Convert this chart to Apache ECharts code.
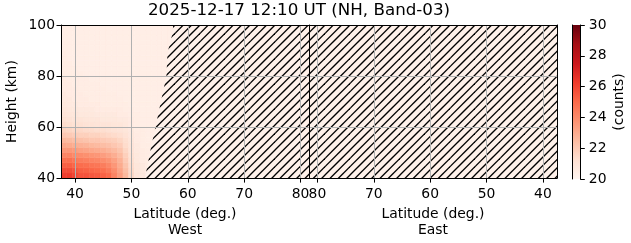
<!DOCTYPE html>
<html><head><meta charset="utf-8">
<script src="https://cdn.jsdelivr.net/npm/echarts@6/dist/echarts.min.js"></script>
<style>html,body{margin:0;padding:0;background:#fff}#c{width:631px;height:243px}</style>
</head><body><div id="c"></div>
<script>
// ---- data ----
const titleText = '2025-12-17 12:10 UT (NH, Band-03)';
const lats = [38,39,40,41,42,43,44,45,46,47,48,49,50,51,52,53,54,55,56,57];
const heights = [41,43,45,47,49,51,53,55,57,59,61,63,65,67,69,71,73,75,77,79,81,83,85,87,89,91,93,95,97,99];
const values = [
 [26.2,26.3,26.0,25.6,25.6,25.5,25.4,25.2,25.0,24.2,23.4,22.6,21.6,21.0,20.7,20.6,20.5,20.5,20.4,20.4],
 [25.8,25.8,25.6,25.3,25.2,25.1,25.0,24.8,24.5,23.9,23.2,22.4,21.5,20.9,20.7,20.6,20.5,20.5,20.4,20.4],
 [25.3,25.3,25.1,24.9,24.8,24.7,24.6,24.4,24.1,23.6,23.0,22.2,21.4,20.9,20.7,20.5,20.5,20.4,20.4,20.4],
 [24.8,24.8,24.6,24.4,24.3,24.2,24.1,23.9,23.7,23.3,22.8,22.0,21.3,20.8,20.6,20.5,20.5,20.4,20.4,20.4],
 [24.2,24.2,24.0,23.9,23.8,23.7,23.6,23.4,23.2,22.9,22.5,21.8,21.2,20.8,20.6,20.5,20.4,20.4,20.4,20.4],
 [23.6,23.6,23.5,23.3,23.2,23.1,23.0,22.9,22.7,22.5,22.2,21.6,21.1,20.7,20.6,20.5,20.4,20.4,20.4,20.4],
 [23.1,23.0,22.9,22.8,22.7,22.6,22.5,22.4,22.3,22.1,21.9,21.4,21.0,20.7,20.5,20.5,20.4,20.4,20.4,20.4],
 [22.6,22.5,22.4,22.3,22.2,22.1,22.1,22.0,21.9,21.8,21.6,21.3,20.9,20.6,20.5,20.4,20.4,20.4,20.4,20.4],
 [22.1,22.0,21.9,21.8,21.8,21.7,21.7,21.6,21.5,21.4,21.3,21.1,20.8,20.6,20.5,20.4,20.4,20.4,20.4,20.4],
 [21.7,21.6,21.5,21.5,21.4,21.4,21.3,21.3,21.2,21.1,21.0,20.9,20.7,20.5,20.5,20.4,20.4,20.4,20.4,20.4],
 [21.4,21.3,21.2,21.2,21.1,21.1,21.0,21.0,21.0,20.9,20.9,20.8,20.6,20.5,20.4,20.4,20.4,20.4,20.4,20.4],
 [21.2,21.1,21.0,21.0,20.9,20.9,20.9,20.8,20.8,20.8,20.7,20.7,20.6,20.5,20.4,20.4,20.4,20.4,20.4,20.4],
 [21.0,20.9,20.9,20.8,20.8,20.8,20.7,20.7,20.7,20.7,20.6,20.6,20.5,20.5,20.4,20.4,20.4,20.4,20.4,20.4],
 [20.9,20.8,20.8,20.7,20.7,20.7,20.6,20.6,20.6,20.6,20.6,20.5,20.5,20.4,20.4,20.4,20.4,20.4,20.4,20.4],
 [20.8,20.7,20.7,20.6,20.6,20.6,20.6,20.5,20.5,20.5,20.5,20.5,20.4,20.4,20.4,20.4,20.4,20.4,20.4,20.4],
 [20.7,20.7,20.6,20.6,20.6,20.5,20.5,20.5,20.5,20.5,20.5,20.4,20.4,20.4,20.4,20.4,20.4,20.4,20.4,20.4],
 [20.7,20.6,20.6,20.6,20.5,20.5,20.5,20.5,20.5,20.5,20.4,20.4,20.4,20.4,20.4,20.4,20.4,20.4,20.4,20.4],
 [20.6,20.6,20.6,20.5,20.5,20.5,20.5,20.5,20.4,20.4,20.4,20.4,20.4,20.4,20.4,20.4,20.4,20.4,20.4,20.4],
 [20.6,20.6,20.5,20.5,20.5,20.5,20.5,20.4,20.4,20.4,20.4,20.4,20.4,20.4,20.4,20.4,20.4,20.4,20.4,20.4],
 [20.6,20.5,20.5,20.5,20.5,20.4,20.4,20.4,20.4,20.4,20.4,20.4,20.4,20.4,20.4,20.4,20.4,20.4,20.4,20.4],
 [20.5,20.5,20.5,20.5,20.4,20.4,20.4,20.4,20.4,20.4,20.4,20.4,20.4,20.4,20.4,20.4,20.4,20.4,20.4,20.4],
 [20.5,20.5,20.5,20.4,20.4,20.4,20.4,20.4,20.4,20.4,20.4,20.4,20.4,20.4,20.4,20.4,20.4,20.4,20.4,20.4],
 [20.5,20.5,20.4,20.4,20.4,20.4,20.4,20.4,20.4,20.4,20.4,20.4,20.4,20.4,20.4,20.4,20.4,20.4,20.4,20.4],
 [20.5,20.4,20.4,20.4,20.4,20.4,20.4,20.4,20.4,20.4,20.4,20.4,20.4,20.4,20.4,20.4,20.4,20.4,20.4,20.4],
 [20.5,20.4,20.4,20.4,20.4,20.4,20.4,20.4,20.4,20.4,20.4,20.4,20.4,20.4,20.4,20.4,20.4,20.4,20.4,20.4],
 [20.4,20.4,20.4,20.4,20.4,20.4,20.4,20.4,20.4,20.4,20.4,20.4,20.4,20.4,20.4,20.4,20.4,20.4,20.4,20.4],
 [20.4,20.4,20.4,20.4,20.4,20.4,20.4,20.4,20.4,20.4,20.4,20.4,20.4,20.4,20.4,20.4,20.4,20.4,20.4,20.4],
 [20.4,20.4,20.4,20.4,20.4,20.4,20.4,20.4,20.4,20.4,20.4,20.4,20.4,20.4,20.4,20.4,20.4,20.4,20.4,20.4],
 [20.4,20.4,20.4,20.4,20.4,20.4,20.4,20.4,20.4,20.4,20.4,20.4,20.4,20.4,20.4,20.4,20.4,20.4,20.4,20.4],
 [20.4,20.4,20.4,20.4,20.4,20.4,20.4,20.4,20.4,20.4,20.4,20.4,20.4,20.4,20.4,20.4,20.4,20.4,20.4,20.4]
];
// no-data boundary in the West panel (lat, height), top to bottom
const westNoDataBoundary = [[57.4,100],[57.3,96.9],[56.4,89.1],[56.2,79.9],[55.3,70.8],[54.3,60.4],[53.4,51.3],[52.4,40]];
const latTicks = [40,50,60,70,80];
const latRange = [37.5, 81.5];
const heightRange = [40, 100];
const heightTickStep = 20;
const countRange = [20, 30];
const countTickStep = 2;
const reds = ['#fff5f0','#fee0d2','#fcbba1','#fc9272','#fb6a4a','#ef3b2c','#cb181d','#a50f15','#67000d'];

// ---- build ----
const heatData = [];
heights.forEach((h, i) => lats.forEach((la, j) => heatData.push([la, h, values[i][j]])));

const tile = document.createElement('canvas');
tile.width = 25; tile.height = 25;
const tctx = tile.getContext('2d');
tctx.fillStyle = '#fff1ea'; tctx.fillRect(0, 0, 25, 25);
tctx.strokeStyle = '#000'; tctx.lineWidth = 1.35;
for (let k = -1; k <= 7; k++) {
  const c = k * 25 / 3;
  tctx.beginPath(); tctx.moveTo(c + 5, -5); tctx.lineTo(c - 30, 30); tctx.stroke();
}
const hatchFill = { image: tile, repeat: 'repeat' };

const FONT = 'DejaVu Sans';
const FS = 13.9;
const lbl = { color: '#000', fontFamily: FONT, fontSize: FS };

function cellItem(params, api) {
  const la = api.value(0), h = api.value(1);
  const p0 = api.coord([la - 0.5, h + 1]);
  const p1 = api.coord([la + 0.5, h - 1]);
  const c = api.visual('color');
  return { type: 'rect', shape: { x: p0[0], y: p0[1], width: p1[0] - p0[0], height: p1[1] - p0[1] },
           style: { fill: c, stroke: c, lineWidth: 0.6 } };
}
function westHatch(params, api) {
  const pts = westNoDataBoundary.map(p => api.coord(p));
  pts.push(api.coord([latRange[1], heightRange[0]]));
  pts.push(api.coord([latRange[1], heightRange[1]]));
  return { type: 'polygon', shape: { points: pts }, style: { fill: hatchFill } };
}
function eastHatch(params, api) {
  const a = api.coord([latRange[1], heightRange[1]]);
  const b = api.coord([latRange[0], heightRange[0]]);
  return { type: 'rect', shape: { x: Math.min(a[0], b[0]), y: a[1], width: Math.abs(b[0] - a[0]), height: b[1] - a[1] },
           style: { fill: hatchFill } };
}
function colorbar(params, api) {
  const a = api.coord([0, countRange[1]]);
  const b = api.coord([1, countRange[0]]);
  const stops = reds.slice().reverse().map((c, i, arr) => ({ offset: i / (arr.length - 1), color: c }));
  return { type: 'rect', shape: { x: a[0], y: a[1], width: b[0] - a[0], height: b[1] - a[1] },
           style: { fill: new echarts.graphic.LinearGradient(0, 0, 0, 1, stops) } };
}

function latAxis(gi, inverse, name) {
  return {
    gridIndex: gi, type: 'value', min: latRange[0], max: latRange[1], inverse: inverse, z: 10,
    axisLine: { show: true, onZero: false, lineStyle: { color: '#000', width: 1 } },
    axisTick: { show: true, customValues: latTicks, length: 4.5, lineStyle: { color: '#000', width: 1 } },
    axisLabel: Object.assign({ customValues: latTicks, margin: 9 }, lbl),
    splitLine: { show: true, lineStyle: { color: '#b0b0b0', width: 1 } },
    name: name, nameLocation: 'middle', nameGap: 27,
    nameTextStyle: Object.assign({ lineHeight: 16 }, lbl)
  };
}
function frameX(gi, inverse) {
  return { gridIndex: gi, type: 'value', min: latRange[0], max: latRange[1], inverse: inverse, position: 'top', z: 10,
    axisLine: { show: true, onZero: false, lineStyle: { color: '#000', width: 1 } },
    axisTick: { show: false }, axisLabel: { show: false }, splitLine: { show: false } };
}

const option = {
  animation: false,
  backgroundColor: '#fff',
  grid: [
    { left: 61, top: 25, width: 248, height: 154 },
    { left: 309, top: 25, width: 248, height: 154 },
    { left: 572.5, top: 25, width: 7.8, height: 154 }
  ],
  visualMap: { type: 'continuous', show: false, min: countRange[0], max: countRange[1], dimension: 2, seriesIndex: 0, inRange: { color: reds } },
  xAxis: [
    latAxis(0, false, 'Latitude (deg.)\nWest'),
    latAxis(1, true, 'Latitude (deg.)\nEast'),
    { gridIndex: 2, type: 'value', min: 0, max: 1, show: false },
    frameX(0, false),
    frameX(1, true)
  ],
  yAxis: [
    { gridIndex: 0, type: 'value', min: heightRange[0], max: heightRange[1], interval: heightTickStep, z: 10,
      axisLine: { show: true, onZero: false, lineStyle: { color: '#000', width: 1 } },
      axisTick: { show: true, length: 4.5, lineStyle: { color: '#000' } },
      axisLabel: Object.assign({ margin: 6 }, lbl),
      splitLine: { show: true, lineStyle: { color: '#b0b0b0', width: 1 } },
      name: 'Height (km)', nameLocation: 'middle', nameGap: 42, nameTextStyle: lbl },
    { gridIndex: 1, type: 'value', min: heightRange[0], max: heightRange[1], interval: heightTickStep, z: 10,
      axisLine: { show: true, onZero: false, lineStyle: { color: '#000', width: 1 } },
      axisTick: { show: false }, axisLabel: { show: false },
      splitLine: { show: true, lineStyle: { color: '#b0b0b0', width: 1 } } },
    { gridIndex: 1, type: 'value', min: heightRange[0], max: heightRange[1], position: 'right', z: 10,
      axisLine: { show: true, onZero: false, lineStyle: { color: '#000', width: 1 } },
      axisTick: { show: false }, axisLabel: { show: false }, splitLine: { show: false } },
    { gridIndex: 2, type: 'value', min: countRange[0], max: countRange[1], interval: countTickStep, position: 'right', z: 10,
      axisLine: { show: true, onZero: false, lineStyle: { color: '#000', width: 1 } },
      axisTick: { show: true, length: 4.5, lineStyle: { color: '#000' } },
      axisLabel: Object.assign({ margin: 8.5 }, lbl),
      splitLine: { show: false },
      name: '(counts)', nameLocation: 'middle', nameRotate: 90, nameGap: 32, nameTextStyle: lbl },
    { gridIndex: 2, type: 'value', min: countRange[0], max: countRange[1], position: 'left', z: 10,
      axisLine: { show: true, onZero: false, lineStyle: { color: '#000', width: 1 } },
      axisTick: { show: false }, axisLabel: { show: false }, splitLine: { show: false } }
  ],
  series: [
    { type: 'custom', xAxisIndex: 0, yAxisIndex: 0, coordinateSystem: 'cartesian2d', clip: true,
      encode: { x: 0, y: 1 }, data: heatData, renderItem: cellItem, z: 2 },
    { type: 'custom', xAxisIndex: 0, yAxisIndex: 0, coordinateSystem: 'cartesian2d', clip: true,
      data: [westNoDataBoundary[0]], renderItem: westHatch, z: 3 },
    { type: 'custom', xAxisIndex: 1, yAxisIndex: 1, coordinateSystem: 'cartesian2d', clip: true,
      data: [[60, 70]], renderItem: eastHatch, z: 3 },
    { type: 'custom', xAxisIndex: 2, yAxisIndex: 3, coordinateSystem: 'cartesian2d',
      data: [[0.5, 25]], renderItem: colorbar, z: 2 }
  ],
  graphic: [
    { type: 'text', x: 299, y: 11, z: 20,
      style: { text: titleText, align: 'center', verticalAlign: 'middle', fill: '#000', font: '16.7px "DejaVu Sans"' } }
  ]
};
const chart = echarts.init(document.getElementById('c'), null, { renderer: 'canvas' });
chart.setOption(option);
</script>
</body></html>
